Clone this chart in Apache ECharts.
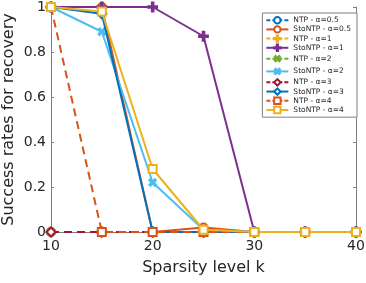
<!DOCTYPE html>
<html><head><meta charset="utf-8">
<script src="https://cdn.jsdelivr.net/npm/echarts@6/dist/echarts.min.js"></script>
<style>html,body{margin:0;padding:0;background:#fff}#c{width:366px;height:283px}</style>
</head><body><div id="c"></div>
<script>
const sparsity = [10, 15, 20, 25, 30, 35, 40];
const names = ['NTP - α=0.5','StoNTP - α=0.5','NTP - α=1','StoNTP - α=1','NTP - α=2','StoNTP - α=2','NTP - α=3','StoNTP - α=3','NTP - α=4','StoNTP - α=4'];
const ntp05    = [0, 0, 0, 0, 0, 0, 0];
const stontp05 = [1, 1, 0, 0.02, 0, 0, 0];
const ntp1     = [0, 0, 0, 0, 0, 0, 0];
const stontp1  = [1, 1, 1, 0.87, 0, 0, 0];
const ntp2     = [0, 0, 0, 0, 0, 0, 0];
const stontp2  = [1, 0.89, 0.22, 0.01, 0, 0, 0];
const ntp3     = [0, 0, 0, 0, 0, 0, 0];
const stontp3  = [1, 0.97, 0, 0, 0, 0, 0];
const ntp4     = [1, 0, 0, 0, 0, 0, 0];
const stontp4  = [1, 0.98, 0.28, 0.01, 0, 0, 0];
const yTicks = [0, 0.2, 0.4, 0.6, 0.8, 1];
const xTicks = [10, 20, 30, 40];

const values = [ntp05, stontp05, ntp1, stontp1, ntp2, stontp2, ntp3, stontp3, ntp4, stontp4];
const colors = ['#0072BD','#D95319','#EDB120','#7E2F8E','#77AC30','#4DBEEE','#A2142F','#0072BD','#D95319','#EDB120'];
const plus = 'path://M4,0H6V4H10V6H6V10H4V6H0V4H4Z';
const symbols = ['emptyCircle','emptyCircle',plus,plus,plus,plus,'emptyDiamond','emptyDiamond','emptyRect','emptyRect'];
const rot = [0,0,0,0,45,45,0,0,0,0];
const sizes = [8,8,9,9,8,8,9,9,8,8];
const font = 'DejaVu Sans, Verdana, sans-serif';

const series = values.map((v, i) => ({
  name: names[i],
  type: 'line',
  data: sparsity.map((k, j) => [k, v[j]]),
  symbol: symbols[i],
  symbolSize: sizes[i],
  symbolRotate: rot[i],
  showAllSymbol: true,
  animation: false,
  itemStyle: { color: colors[i], borderColor: colors[i], borderWidth: 1.8 },
  lineStyle: { color: colors[i], width: 2, type: (i % 2 === 0) ? [8, 5] : 'solid' },
  z: 2 + i
}));

const legendData = names.map((n, i) => ({
  name: n,
  lineStyle: { type: (i % 2 === 0) ? [4, 2] : 'solid', width: 2 }
}));

const chart = echarts.init(document.getElementById('c'), null, { renderer: 'canvas' });
chart.setOption({
  animation: false,
  backgroundColor: '#fff',
  grid: { left: 51, right: 10, top: 7, bottom: 51, containLabel: false, outerBoundsMode: 'none' },
  legend: {
    data: legendData,
    orient: 'vertical',
    right: 9, top: 13,
    backgroundColor: '#fff',
    borderColor: '#808080', borderWidth: 1,
    padding: [3, 6, 3, 3],
    itemWidth: 22, itemHeight: 8, itemGap: 0.8,
    textStyle: { fontFamily: font, fontSize: 7.5, lineHeight: 8, height: 8, color: '#262626', padding: [0, 0, 0, 0] }
  },
  xAxis: [{
    type: 'value', min: 10, max: 40, interval: 10,
    name: 'Sparsity level k', nameLocation: 'middle', nameGap: 28, nameMoveOverlap: false,
    nameTextStyle: { fontFamily: font, fontSize: 16, color: '#262626' },
    axisLine: { show: true, lineStyle: { color: '#808080', width: 1 } },
    axisTick: { show: true, inside: true, length: 3, lineStyle: { color: '#808080' } },
    axisLabel: { fontFamily: font, fontSize: 14, color: '#262626', margin: 7,
      formatter: v => xTicks.includes(v) ? String(v) : '' },
    splitLine: { show: false }
  }, {
    type: 'value', min: 10, max: 40, interval: 10, position: 'top',
    axisLine: { show: true, lineStyle: { color: '#808080', width: 1 } },
    axisTick: { show: true, inside: true, length: 3, lineStyle: { color: '#808080' } },
    axisLabel: { show: false }, splitLine: { show: false }
  }],
  yAxis: [{
    type: 'value', min: 0, max: 1, interval: 0.2,
    name: 'Success rates for recovery', nameLocation: 'middle', nameGap: 34, nameMoveOverlap: false,
    nameTextStyle: { fontFamily: font, fontSize: 16, color: '#262626' },
    axisLine: { show: true, lineStyle: { color: '#808080', width: 1 } },
    axisTick: { show: true, inside: true, length: 3, lineStyle: { color: '#808080' } },
    axisLabel: { fontFamily: font, fontSize: 14, color: '#262626', margin: 5,
      formatter: v => { const t = yTicks.find(x => Math.abs(x - v) < 1e-9); return t === undefined ? '' : String(t); } },
    splitLine: { show: false }
  }, {
    type: 'value', min: 0, max: 1, interval: 0.2, position: 'right',
    axisLine: { show: true, lineStyle: { color: '#808080', width: 1 } },
    axisTick: { show: true, inside: true, length: 3, lineStyle: { color: '#808080' } },
    axisLabel: { show: false }, splitLine: { show: false }
  }],
  series: series
});
</script></body></html>
